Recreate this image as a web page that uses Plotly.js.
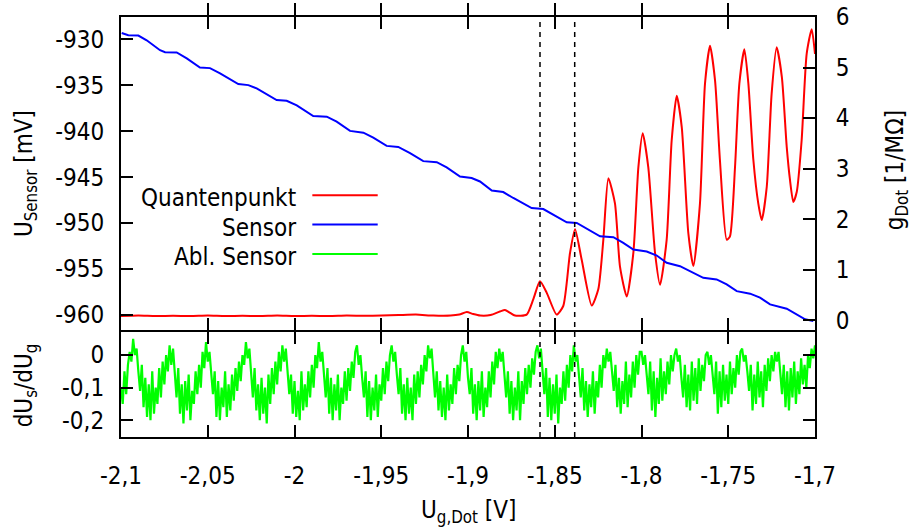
<!DOCTYPE html>
<html><head><meta charset="utf-8">
<script src="https://cdn.plot.ly/plotly-3.0.1.min.js"></script>
<style>html,body{margin:0;padding:0;background:#fff}#chart{width:912px;height:532px}</style>
</head><body><div id="chart"></div>
<script>
// ---- data ----
const sensorX = [-2.0996,-2.0958,-2.0900,-2.0852,-2.0775,-2.0746,-2.0679,-2.0621,-2.0545,-2.0487,-2.0429,-2.0324,-2.0266,-2.0218,-2.0103,-2.0045,-1.9987,-1.9892,-1.9814,-1.9757,-1.9680,-1.9603,-1.9546,-1.9469,-1.9402,-1.9334,-1.9258,-1.9180,-1.9123,-1.9046,-1.8979,-1.8931,-1.8863,-1.8797,-1.8739,-1.8700,-1.8633,-1.8566,-1.8508,-1.8431,-1.8373,-1.8316,-1.8239,-1.8162,-1.8105,-1.8047,-1.7970,-1.7912,-1.7855,-1.7778,-1.7720,-1.7644,-1.7567,-1.7509,-1.7451,-1.7374,-1.7317,-1.7259,-1.7163,-1.7105,-1.7057,-1.7010];
const sensorY = [-929.32,-929.57,-929.60,-930.11,-931.19,-931.41,-931.44,-932.09,-933.07,-933.14,-933.72,-934.88,-934.99,-935.35,-936.61,-936.69,-937.19,-938.35,-938.42,-938.97,-939.97,-940.16,-940.70,-941.60,-941.71,-942.39,-943.26,-943.37,-943.95,-944.93,-945.10,-945.47,-946.45,-946.62,-947.27,-947.64,-948.36,-948.47,-949.08,-949.92,-949.98,-950.63,-951.44,-951.54,-952.15,-952.88,-953.09,-953.53,-954.32,-954.69,-955.23,-955.95,-956.13,-956.67,-957.40,-957.68,-958.11,-958.84,-959.31,-959.93,-960.47,-960.65];

const dotX = [-2.1,-2.09,-2.08,-2.07,-2.06,-2.05,-2.04,-2.03,-2.02,-2.01,-2.0,-1.99,-1.98,-1.97,-1.96,-1.95,-1.94,-1.93,-1.92,-1.91,-1.905,-1.9007,-1.897,-1.893,-1.887,-1.8816,-1.8787,-1.876,-1.8729,-1.8662,-1.8624,-1.8585,-1.8546,-1.8489,-1.8451,-1.8412,-1.8383,-1.8345,-1.8287,-1.8249,-1.822,-1.8191,-1.8153,-1.8124,-1.8085,-1.8047,-1.8018,-1.7993,-1.7961,-1.7922,-1.7893,-1.7855,-1.7826,-1.7797,-1.7768,-1.773,-1.7701,-1.7663,-1.7634,-1.7605,-1.7576,-1.7548,-1.7509,-1.749,-1.7461,-1.7436,-1.7407,-1.7384,-1.7356,-1.7327,-1.7307,-1.7278,-1.725,-1.7221,-1.7191,-1.7163,-1.7144,-1.7125,-1.7105,-1.7077,-1.7048,-1.7019,-1.7];
const dotY = [0.08,0.09,0.08,0.085,0.08,0.09,0.08,0.085,0.08,0.09,0.08,0.085,0.08,0.09,0.085,0.09,0.1,0.11,0.09,0.09,0.11,0.16,0.12,0.09,0.1,0.17,0.2,0.15,0.09,0.11,0.41,0.77,0.54,0.11,0.28,1.33,1.8,1.2,0.29,0.61,1.59,2.81,2.31,1.06,0.47,1.33,3.03,3.7,3.03,1.33,0.7,1.59,3.56,4.44,3.82,1.72,1.07,2.31,4.68,5.43,4.74,3.17,1.59,1.66,3.03,4.68,5.36,4.68,3.2,2.31,1.98,2.64,4.48,5.4,4.81,3.43,2.77,2.34,2.54,3.56,5.27,5.76,5.27];

const derivStart = -2.1;
const derivStep = 0.001;
const derivY = [
-0.10,-0.15,-0.05,-0.12,-0.03,0.01,-0.02,
0.05,0.0,0.02,-0.05,-0.11,-0.03,-0.16,-0.07,-0.19,-0.09,-0.2,-0.05,-0.18,-0.1,-0.15,-0.04,-0.13,-0.02,-0.09,0.0,-0.05,
0.03,-0.03,0.02,-0.07,-0.13,-0.04,-0.18,-0.09,-0.21,-0.08,-0.17,-0.06,-0.2,-0.11,-0.15,-0.05,-0.12,-0.03,-0.1,0.01,-0.04,
0.04,-0.02,0.01,-0.06,-0.12,-0.05,-0.19,-0.08,-0.2,-0.1,-0.16,-0.05,-0.19,-0.09,-0.17,-0.06,-0.14,-0.04,-0.11,-0.02,-0.08,0.0,-0.03,
0.04,-0.01,0.02,-0.07,-0.13,-0.04,-0.17,-0.09,-0.2,-0.07,-0.18,-0.1,-0.21,-0.06,-0.15,-0.04,-0.12,-0.02,-0.09,0.01,-0.05,
0.03,-0.02,0.02,-0.05,-0.12,-0.06,-0.18,-0.08,-0.19,-0.11,-0.2,-0.05,-0.17,-0.09,-0.16,-0.05,-0.13,-0.03,-0.1,0.0,-0.04,
0.04,-0.02,0.01,-0.06,-0.13,-0.04,-0.18,-0.07,-0.2,-0.09,-0.17,-0.06,-0.2,-0.1,-0.15,-0.05,-0.14,-0.04,-0.11,-0.02,-0.07,0.01,
0.03,-0.03,0.0,-0.07,-0.13,-0.05,-0.19,-0.08,-0.2,-0.1,-0.17,-0.06,-0.19,-0.09,-0.14,-0.04,-0.12,-0.02,-0.08,0.0,
0.03,-0.02,0.01,-0.06,-0.12,-0.04,-0.18,-0.09,-0.2,-0.07,-0.18,-0.1,-0.2,-0.06,-0.15,-0.05,-0.13,-0.03,-0.09,0.0,-0.05,
0.03,-0.01,0.02,-0.06,-0.13,-0.05,-0.17,-0.08,-0.19,-0.1,-0.2,-0.06,-0.17,-0.09,-0.15,-0.04,-0.12,-0.03,-0.08,0.0,
0.03,-0.02,0.01,-0.07,-0.12,-0.04,-0.18,-0.09,-0.2,-0.08,-0.17,-0.05,-0.19,-0.1,-0.16,-0.05,-0.13,-0.02,-0.09,0.01,-0.04,
0.02,-0.02,0.01,-0.06,-0.13,-0.05,-0.18,-0.08,-0.2,-0.1,-0.17,-0.05,-0.2,-0.08,-0.15,-0.04,-0.12,-0.03,-0.1,-0.01,-0.06,0.01,
0.03,-0.01,0.02,-0.05,-0.12,-0.04,-0.19,-0.07,-0.2,-0.09,-0.18,-0.06,-0.21,-0.1,-0.15,-0.05,-0.14,-0.03,-0.1,0.0,-0.05,
0.03,-0.02,0.0,-0.06,-0.13,-0.04,-0.17,-0.08,-0.19,-0.09,-0.16,-0.05,-0.18,-0.08,-0.13,-0.03,-0.1,0.0,-0.04,
0.02,-0.02,0.01,-0.05,-0.11,-0.03,-0.16,-0.07,-0.18,-0.08,-0.15,-0.02,-0.16,-0.06,-0.13,-0.02,-0.1,0.0,-0.06,0.01,
0.01,-0.03,0.0,-0.06,-0.12,-0.02,-0.17,-0.05,-0.19,-0.07,-0.15,-0.01,-0.14,-0.05,-0.12,-0.02,-0.09,0.0,-0.05,0.0,
0.02,-0.02,0.0,-0.07,-0.13,-0.03,-0.16,-0.06,-0.17,-0.02,-0.14,-0.04,-0.15,-0.01,-0.11,-0.03,-0.08,0.0,
0.01,-0.03,0.0,-0.06,-0.12,-0.02,-0.18,-0.05,-0.16,-0.03,-0.14,-0.06,-0.15,-0.02,-0.12,-0.04,-0.1,0.0,-0.06,0.01,
0.02,-0.02,0.0,-0.05,-0.11,-0.03,-0.17,-0.06,-0.15,-0.02,-0.13,-0.05,-0.16,-0.03,-0.11,-0.01,-0.08,0.0,-0.05,
0.01,-0.02,0.01,-0.06,-0.12,-0.03,-0.16,-0.05,-0.17,-0.04,-0.13,-0.02,-0.15,-0.05,-0.12,-0.01,-0.09,-0.03,-0.1,0.0,-0.04,
0.02,-0.01,0.03
];

const xTickVals = [-2.1,-2.05,-2,-1.95,-1.9,-1.85,-1.8,-1.75,-1.7];
const xTickText = ['-2,1','-2,05','-2','-1,95','-1,9','-1,85','-1,8','-1,75','-1,7'];
const sensorTickVals = [-960,-955,-950,-945,-940,-935,-930];
const sensorTickText = ['-960','-955','-950','-945','-940','-935','-930'];
const dotTickVals = [0,1,2,3,4,5,6];
const dotTickText = ['0','1','2','3','4','5','6'];
const derivTickVals = [0,-0.1,-0.2];
const derivTickText = ['0','-0,1','-0,2'];
const markerLines = [-1.8585,-1.8385];
const seriesNames = ['Quantenpunkt','Sensor','Abl. Sensor'];
const seriesColors = ['#ff0000','#0000ff','#00ff00'];

// ---- chart ----
const FONT = "'DejaVu Sans Condensed', 'Liberation Sans Narrow', sans-serif";
const tf = {family:FONT,size:24,color:'#000'};
const base = {showgrid:false, zeroline:false, showline:true, linecolor:'#000', linewidth:2,
  ticks:'inside', ticklen:12, tickwidth:2, tickcolor:'#000', tickfont:tf, tickmode:'array'};
const split = 106/420;
const gap = 1/420;

const traces = [
  {x:dotX, y:dotY, type:'scatter', mode:'lines', xaxis:'x2', yaxis:'y', name:seriesNames[0],
   line:{color:seriesColors[0], width:2, shape:'spline', smoothing:0.6}},
  {x:sensorX, y:sensorY, type:'scatter', mode:'lines', xaxis:'x2', yaxis:'y3', name:seriesNames[1],
   line:{color:seriesColors[1], width:2}},
  {x0:derivStart, dx:derivStep, y:derivY, type:'scatter', mode:'lines', xaxis:'x', yaxis:'y2', name:seriesNames[2],
   line:{color:seriesColors[2], width:2.2}}
];

const legY = [0.5755, 0.5057, 0.4357];
const legTextY = [0.5685, 0.4987, 0.4287];
const shapes = markerLines.map(v => ({type:'line', xref:'x', yref:'paper', x0:v, x1:v, y0:0, y1:1,
  line:{color:'#000', width:1.5, dash:'5px,5px'}}));
seriesNames.forEach((n,i) => shapes.push({type:'line', xref:'paper', yref:'paper', x0:0.2757, x1:0.3699,
  y0:legY[i], y1:legY[i], line:{color:seriesColors[i], width:2}}));

const annotations = seriesNames.map((n,i) => ({text:n, xref:'paper', yref:'paper', x:0.255, y:legTextY[i],
  xanchor:'right', yanchor:'middle', showarrow:false, font:tf}));
annotations.push(
  {text:'U<sub>Sensor</sub> [mV]', xref:'paper', yref:'paper', x:-0.1383, y:0.626, textangle:-90,
   xanchor:'center', yanchor:'middle', showarrow:false, font:tf},
  {text:'dU<sub>s</sub>/dU<sub>g</sub>', xref:'paper', yref:'paper', x:-0.1383, y:0.123, textangle:-90,
   xanchor:'center', yanchor:'middle', showarrow:false, font:tf},
  {text:'g<sub>Dot</sub> [1/MΩ]', xref:'paper', yref:'paper', x:1.1167, y:0.635, textangle:-90,
   xanchor:'center', yanchor:'middle', showarrow:false, font:tf},
  {text:'U<sub>g,Dot</sub> [V]', xref:'paper', yref:'paper', x:0.5, y:-0.1785,
   xanchor:'center', yanchor:'middle', showarrow:false, font:tf}
);

const layout = {
  width:912, height:532, margin:{l:121, r:97, t:17, b:95},
  paper_bgcolor:'#fff', plot_bgcolor:'#fff', showlegend:false, font:tf,
  xaxis:{...base, domain:[0,1], anchor:'y2', range:[-2.1,-1.7], tickvals:xTickVals, ticktext:xTickText,
    mirror:'allticks', ticklabelstandoff:16},
  xaxis2:{...base, domain:[0,1], anchor:'y', range:[-2.1,-1.7], matches:'x', tickvals:xTickVals, ticktext:xTickText,
    showticklabels:false, mirror:'allticks'},
  yaxis:{...base, domain:[split+gap,1], anchor:'x2', side:'right', range:[-0.195,6], tickvals:dotTickVals, ticktext:dotTickText,
    ticklabelstandoff:14},
  yaxis3:{...base, overlaying:'y', anchor:'x2', side:'left', range:[-961.63,-927.58], tickvals:sensorTickVals,
    ticktext:sensorTickText, ticklabelstandoff:10},
  yaxis2:{...base, domain:[0,split-gap], anchor:'x', range:[-0.252,0.071], tickvals:derivTickVals, ticktext:derivTickText,
    mirror:'allticks', ticklabelstandoff:10},
  shapes, annotations
};

Plotly.newPlot('chart', traces, layout, {staticPlot:true, displayModeBar:false});
</script></body></html>
